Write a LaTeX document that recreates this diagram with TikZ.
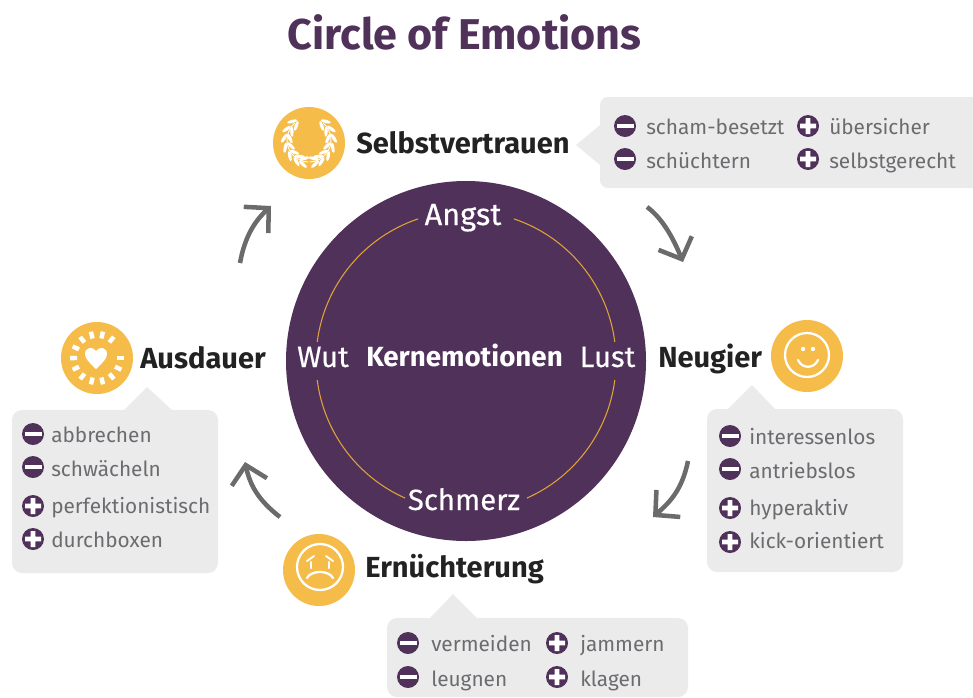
\documentclass[tikz,border=0pt]{standalone}
\usepackage{fontspec}
\setmainfont{Fira Sans}
\newfontfamily\medfont[FakeBold=0.35]{Fira Sans}
\usetikzlibrary{arrows.meta,calc}
\definecolor{plum}{HTML}{50315A}
\definecolor{gold}{HTML}{F5BC4A}
\definecolor{ringc}{HTML}{DFA338}
\definecolor{panelc}{HTML}{EBEBEB}
\definecolor{txtc}{HTML}{6C6C70}
\definecolor{headc}{HTML}{222222}
\definecolor{arrowc}{HTML}{6B6B6B}
\tikzset{
  x=0.75pt,y=-0.75pt,
  panel/.style={fill=panelc,rounded corners=7.5pt},
  badge/.style={circle,fill=gold,minimum size=54pt,inner sep=0pt},
  minusb/.style={circle,fill=plum,minimum size=16.5pt,inner sep=0pt,
    path picture={\fill[white,shift={(path picture bounding box.center)}] (-8.5,-2.3) rectangle (8.5,2.3);}},
  plusb/.style={circle,fill=plum,minimum size=16.5pt,inner sep=0pt,
    path picture={\fill[white,shift={(path picture bounding box.center)}] (-8,-2.3) rectangle (8,2.3) (-2.3,-8) rectangle (2.3,8);}},
  item/.style={anchor=base west,inner sep=0pt,text=txtc,font=\fontsize{15.6pt}{18pt}\selectfont},
  head/.style={anchor=base west,inner sep=0pt,text=headc,font=\fontsize{21.8pt}{24pt}\selectfont\bfseries},
  inner/.style={anchor=base,inner sep=0pt,text=white,font=\fontsize{22pt}{24pt}\medfont},
  flow/.style={draw=arrowc,line width=3.4pt,-{Straight Barb[length=13pt,width=27pt,line width=3.4pt]}},
  ring/.style={draw=ringc,line width=0.8pt},
  icon/.style={draw=white,line width=1.7pt,line cap=round},
  leaf/.style={fill=white},
}
\begin{document}
\begin{tikzpicture}
\useasboundingbox (0,0) rectangle (973,697);
% title
\node[anchor=base,inner sep=0pt,text=plum,font=\fontsize{32.3pt}{36pt}\selectfont\bfseries] (title) at (464.5,49) {Circle of Emotions};
% panels
\fill[panelc] (600,125) -- (576,145) -- (600,165) -- cycle;
\fill[panelc] (973,97) -- (608,97) to[out=180,in=90] (600,105) -- (600,180) to[out=270,in=180] (608,188) -- (973,188) -- cycle;
\fill[panelc] (727,410) -- (752,385) -- (776,410) -- cycle;
\fill[panel] (707,409) rectangle (903,572);
\fill[panelc] (123,411) -- (147,387) -- (173,411) -- cycle;
\fill[panel] (12,410) rectangle (218,573);
\fill[panelc] (429,619) -- (453,594) -- (478,619) -- cycle;
\fill[panel] (387,618) rectangle (688,697);
% core
\node[circle,fill=plum,minimum size=270pt,inner sep=0pt] (core) at (466,361) {};
\draw[ring] (core.center)+(187.3:150) arc[start angle=187.3,end angle=251.4,radius=150];
\draw[ring] (core.center)+(288.6:150) arc[start angle=288.6,end angle=352.7,radius=150];
\draw[ring] (core.center)+(172.7:150) arc[start angle=172.7,end angle=114,radius=150];
\draw[ring] (core.center)+(66:150) arc[start angle=66,end angle=7.3,radius=150];
\node[inner,font=\fontsize{23pt}{24pt}\medfont] (angst) at (463,225) {Angst};
\node[inner] (wut) at (323,367) {Wut};
\node[inner,font=\fontsize{20.8pt}{24pt}\selectfont\bfseries] (kern) at (464.5,366) {Kernemotionen};
\node[inner] (lust) at (607.5,367) {Lust};
\node[inner] (schmerz) at (464,510) {Schmerz};
% badges
\node[badge] (b1) at (309,143) {};
\node[badge] (b2) at (807,356) {};
\node[badge] (b3) at (319,570) {};
\node[badge] (b4) at (97,358) {};
% laurel
\foreach \s in {1,-1}{
\begin{scope}[shift={(309,140)},xscale=\s]
  \foreach \a in {-48,-26,-4,18,40,60,76}{
    \fill[leaf,shift={(\a:25)},rotate=-\a+28] (0,0) ellipse (1.7 and 5.2);
    \fill[leaf,shift={(\a:19)},rotate=-\a-28] (0,0) ellipse (1.7 and 5.2);
  }
  \draw[white,line width=0.7pt] (-50:22) arc[start angle=-50,end angle=88,radius=22];
\end{scope}
}
% smile
\draw[icon] (b2.center)+(0,-1) circle[radius=22];
\fill[white] (803,349) circle[radius=2.2] (813,349) circle[radius=2.2];
\draw[icon] (798,360) .. controls (802,369) and (814,369) .. (818,360);
% sad
\draw[icon] (320,567) circle[radius=23];
\draw[icon] (307,578) .. controls (311,570) and (329,570) .. (333,578);
\draw[icon,line width=1.4pt] (307,561) -- (314,556) (326,556) -- (333,561);
\draw[icon,line width=1.6pt] (311,562) -- (311,568) (329,562) -- (329,568);
% sun and heart
\foreach \a in {0,25.7,...,334}{
  \draw[white,line width=3.3pt] (b4.center)+(\a:20) -- +(\a:27);
}
\fill[white] (96,369) .. controls (90,363) and (85,359) .. (85,354) .. controls (85,347) and (93,346) .. (96,351) .. controls (99,346) and (107,347) .. (107,354) .. controls (107,359) and (102,363) .. (96,369) -- cycle;
% heads
\node[head] (h1) at (356,153) {Selbstvertrauen};
\node[head] (h2) at (658,367) {Neugier};
\node[head] (h3) at (365,577) {Ernüchterung};
\node[head] (h4) at (140,368) {Ausdauer};
% top panel
\node[minusb] (t1) at (625,126) {}; \node[item] (tt1) at (646,134) {scham-besetzt};
\node[minusb] (t2) at (625,159) {}; \node[item] (tt2) at (646,168) {schüchtern};
\node[plusb] (t3) at (808,126) {}; \node[item] (tt3) at (829,134) {übersicher};
\node[plusb] (t4) at (808,159) {}; \node[item] (tt4) at (829,168) {selbstgerecht};
% right panel
\node[minusb] (r1) at (730,436) {}; \node[item] (rt1) at (749,444) {interessenlos};
\node[minusb] (r2) at (730,469) {}; \node[item] (rt2) at (749,478) {antriebslos};
\node[plusb] (r3) at (730,508) {}; \node[item] (rt3) at (749,515) {hyperaktiv};
\node[plusb] (r4) at (730,542) {}; \node[item] (rt4) at (749,548) {kick-orientiert};
% left panel
\node[minusb] (l1) at (33,434) {}; \node[item] (lt1) at (51,442) {abbrechen};
\node[minusb] (l2) at (33,467) {}; \node[item] (lt2) at (51,476) {schwächeln};
\node[plusb] (l3) at (33,506) {}; \node[item] (lt3) at (51,513) {perfektionistisch};
\node[plusb] (l4) at (33,539) {}; \node[item] (lt4) at (51,547) {durchboxen};
% bottom panel
\node[minusb] (u1) at (408,643) {}; \node[item] (ut1) at (431,651) {vermeiden};
\node[minusb] (u2) at (408,677) {}; \node[item] (ut2) at (431,686) {leugnen};
\node[plusb] (u3) at (557,643) {}; \node[item] (ut3) at (580,651) {jammern};
\node[plusb] (u4) at (557,677) {}; \node[item] (ut4) at (580,686) {klagen};
% connectors
\coordinate (a1s) at (240,263); \coordinate (a1e) at (271,206);
\coordinate (a2s) at (647,207); \coordinate (a2e) at (683,262);
\coordinate (a3s) at (688,461); \coordinate (a3e) at (653,517);
\coordinate (a4s) at (280,517); \coordinate (a4e) at (245,462);
\draw[flow] (a1s) .. controls (245,235) and (256,220) .. (a1e);
\draw[flow] (a2s) .. controls (665,220) and (676,245) .. (a2e);
\draw[flow] (a3s) .. controls (682,490) and (670,502) .. (a3e);
\draw[flow] (a4s) .. controls (258,500) and (250,485) .. (a4e);
\end{tikzpicture}
\end{document}
